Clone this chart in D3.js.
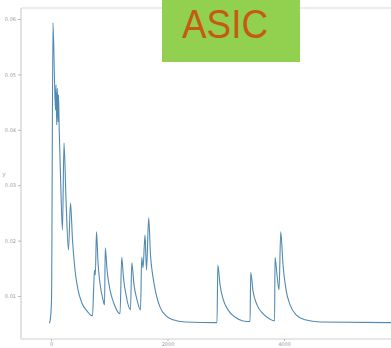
<!DOCTYPE html>
<html><head><meta charset="utf-8">
<script src="https://cdn.jsdelivr.net/npm/d3@7"></script>
<style>body{margin:0;background:#fff}svg{display:block}</style>
</head><body>
<script>
const xTicks = [0, 2000, 4000];
const yTicks = [0.01, 0.02, 0.03, 0.04, 0.05, 0.06];
const yTickLabels = ["0.01", "0.02", "0.03", "0.04", "0.05", "0.06"];
const seriesX = [-26,-9,9,34,60,77,86,98,108,120,129,141,163,197,223,258,300,335,369,412,464,532,618,713,730,747,761,781,807,841,893,919,932,962,1013,1082,1185,1214,1245,1288,1365,1387,1425,1477,1537,1557,1580,1614,1640,1677,1708,1751,1803,1872,1975,2095,2301,2850,2864,2902,2953,3039,3159,3297,3417,3429,3468,3537,3640,3760,3838,3846,3880,3915,3944,3983,4035,4104,4207,4361,4619,5838];
const seriesY = [0.0051,0.0060,0.0093,0.0593,0.0490,0.0436,0.0481,0.0409,0.0475,0.0414,0.0463,0.0400,0.0318,0.0219,0.0376,0.0273,0.0183,0.0268,0.0201,0.0147,0.0111,0.0087,0.0073,0.0064,0.0107,0.0147,0.0138,0.0216,0.0161,0.0123,0.0093,0.0084,0.0187,0.0147,0.0111,0.0086,0.0068,0.0170,0.0132,0.0102,0.0075,0.0160,0.0120,0.0093,0.0075,0.0170,0.0151,0.0210,0.0147,0.0241,0.0174,0.0134,0.0104,0.0080,0.0064,0.0057,0.0053,0.0052,0.0156,0.0120,0.0095,0.0075,0.0062,0.0055,0.0054,0.0143,0.0109,0.0084,0.0068,0.0058,0.0055,0.0170,0.0138,0.0111,0.0216,0.0156,0.0111,0.0084,0.0066,0.0057,0.0053,0.0052];
const badgeText = "ASIC";

const W = 391, H = 348;
const svg = d3.select("body").append("svg").attr("width", W).attr("height", H);

const x = d3.scaleLinear().domain([0, 4000]).range([51, 284]);
const y = d3.scaleLinear().domain([0.01, 0.06]).range([296, 19]);

const frame = "#cfcfcf";
svg.append("line").attr("x1",21).attr("x2",21).attr("y1",8).attr("y2",339).attr("stroke",frame).attr("stroke-width",1.2);
svg.append("line").attr("x1",21).attr("x2",W).attr("y1",339).attr("y2",339).attr("stroke",frame).attr("stroke-width",1.2);
svg.append("line").attr("x1",21).attr("x2",W).attr("y1",8).attr("y2",8).attr("stroke","#dcdcdc").attr("stroke-width",1.2);

const yAxis = d3.axisLeft(y).tickValues(yTicks).tickFormat((d,i)=>yTickLabels[i]).tickSize(3).tickPadding(2);
const gy = svg.append("g").attr("transform","translate(21,0)").call(yAxis);
gy.select(".domain").remove();
gy.selectAll("line").attr("stroke","#bbb");
gy.selectAll("text").attr("fill","#9a9a9a").attr("font-size",5).attr("font-family","DejaVu Sans");

const xAxis = d3.axisBottom(x).tickValues(xTicks).tickFormat(d3.format("d")).tickSize(2).tickPadding(1);
const gx = svg.append("g").attr("transform","translate(0,339)").call(xAxis);
gx.select(".domain").remove();
gx.selectAll("line").attr("stroke","#bbb");
gx.selectAll("text").attr("fill","#9a9a9a").attr("font-size",5).attr("font-family","DejaVu Sans");

svg.append("text").attr("x",4).attr("y",176).attr("fill","#aaa").attr("font-size",6).attr("font-family","DejaVu Sans").attr("text-anchor","middle").text("y");

const pts = seriesX.map((v,i)=>[v, seriesY[i]]);
const line = d3.line().x(d=>x(d[0])).y(d=>y(d[1])).curve(d3.curveMonotoneX);
svg.append("path").datum(pts).attr("d", line).attr("fill","none").attr("stroke","#5089b3").attr("stroke-width",1.1).attr("stroke-linejoin","round");

svg.append("rect").attr("x",162).attr("y",0).attr("width",138).attr("height",62).attr("fill","#92d050");
svg.append("text").attr("x",225).attr("y",38).attr("text-anchor","middle").attr("fill","#c55a11")
  .attr("font-size",41).attr("font-family","Liberation Sans, sans-serif")
  .attr("textLength",86).attr("lengthAdjust","spacingAndGlyphs").text(badgeText);
</script>
</body></html>
